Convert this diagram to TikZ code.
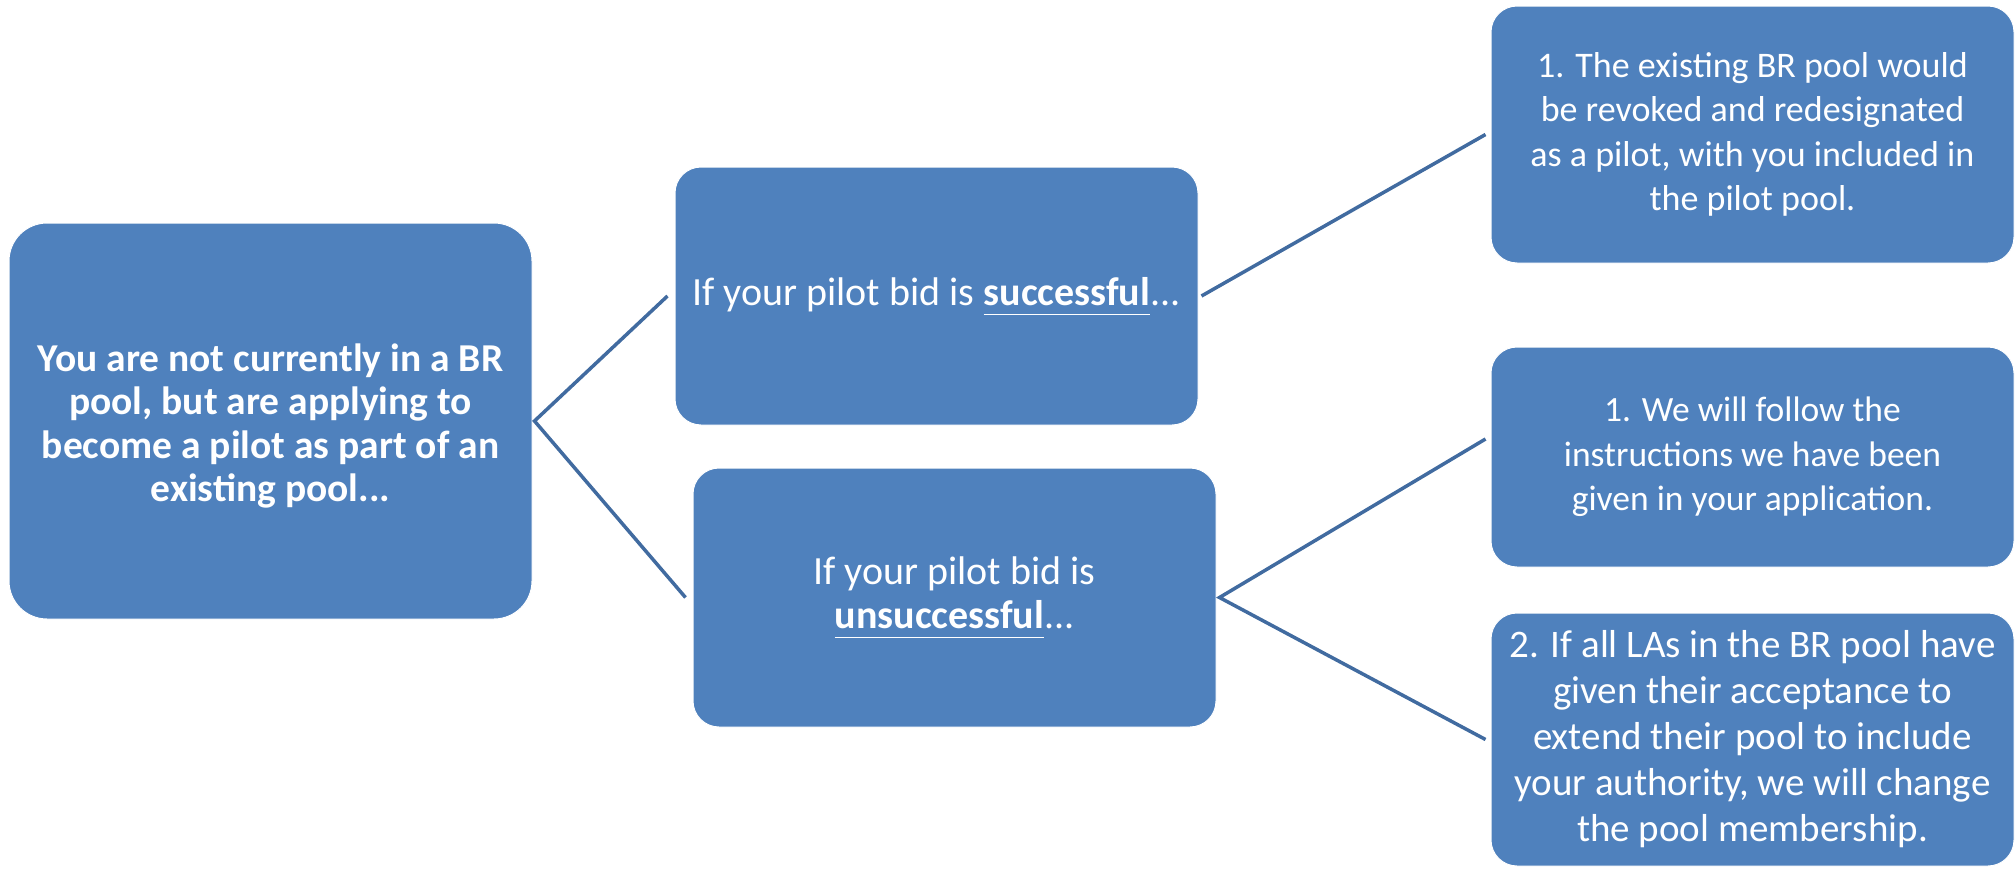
\documentclass[tikz,border=0pt]{standalone}
\usepackage{fontspec}
\setmainfont{Carlito}
\definecolor{boxblue}{RGB}{79,129,189}
\definecolor{lineblue}{RGB}{65,107,160}
\newcommand{\ulbold}[1]{\underline{\textbf{#1}\vphantom{g}}}
\tikzset{
  box/.style={rectangle, rounded corners=26pt, fill=boxblue, draw=white, line width=1pt,
    minimum width=523pt, text=white, align=center, inner sep=0pt},
  bigbox/.style={box, rounded corners=38pt, font=\fontsize{39.5pt}{43.5pt}\selectfont\bfseries},
  midbox/.style={box, font=\fontsize{40pt}{44pt}\selectfont},
  smallbox/.style={box, font=\fontsize{36pt}{44.5pt}\selectfont},
  conn/.style={draw=lineblue, line width=3.5pt}
}
\begin{document}
\begin{tikzpicture}[x=1pt, y=-1pt]
\useasboundingbox (0,0) rectangle (2016,870);
\node[bigbox, minimum height=396pt] (A) at (270.5,421) {\rule{0pt}{0pt}\\[-6pt]You are not currently in a BR\\pool, but are applying to\\become a pilot as part of an\\existing pool...};
\node[midbox, minimum height=258pt] (B) at (936.5,296) {If your pilot bid is \ulbold{successful}...};
\node[midbox, minimum height=259pt] (C) at (954.5,597.5) {If your pilot bid is\\\ulbold{unsuccessful}...};
\node[smallbox, minimum height=257pt] (D1) at (1752.5,134.5) {1. The existing BR pool would\\be revoked and redesignated\\as a pilot, with you included in\\the pilot pool.};
\node[smallbox, minimum height=220pt, font=\fontsize{35.5pt}{44.5pt}\selectfont] (D2) at (1752.5,457) {1. We will follow the\\instructions we have been\\given in your application.};
\node[smallbox, minimum height=253pt, font=\fontsize{39pt}{46pt}\selectfont] (D3) at (1752.5,739.5) {2. If all LAs in the BR pool have\\given their acceptance to\\extend their pool to include\\your authority, we will change\\the pool membership.};
\draw[conn, line join=miter] ([xshift=-7pt]B.west) -- ([xshift=2pt]A.east) -- ([xshift=-7pt]C.west);
\draw[conn] ([xshift=3pt]B.east) -- ([xshift=-5pt]D1.west);
\draw[conn, line join=miter] ([xshift=-5pt,yshift=18pt]D2.west) -- ([xshift=3pt]C.east) -- ([xshift=-5pt]D3.west);
\end{tikzpicture}
\end{document}
